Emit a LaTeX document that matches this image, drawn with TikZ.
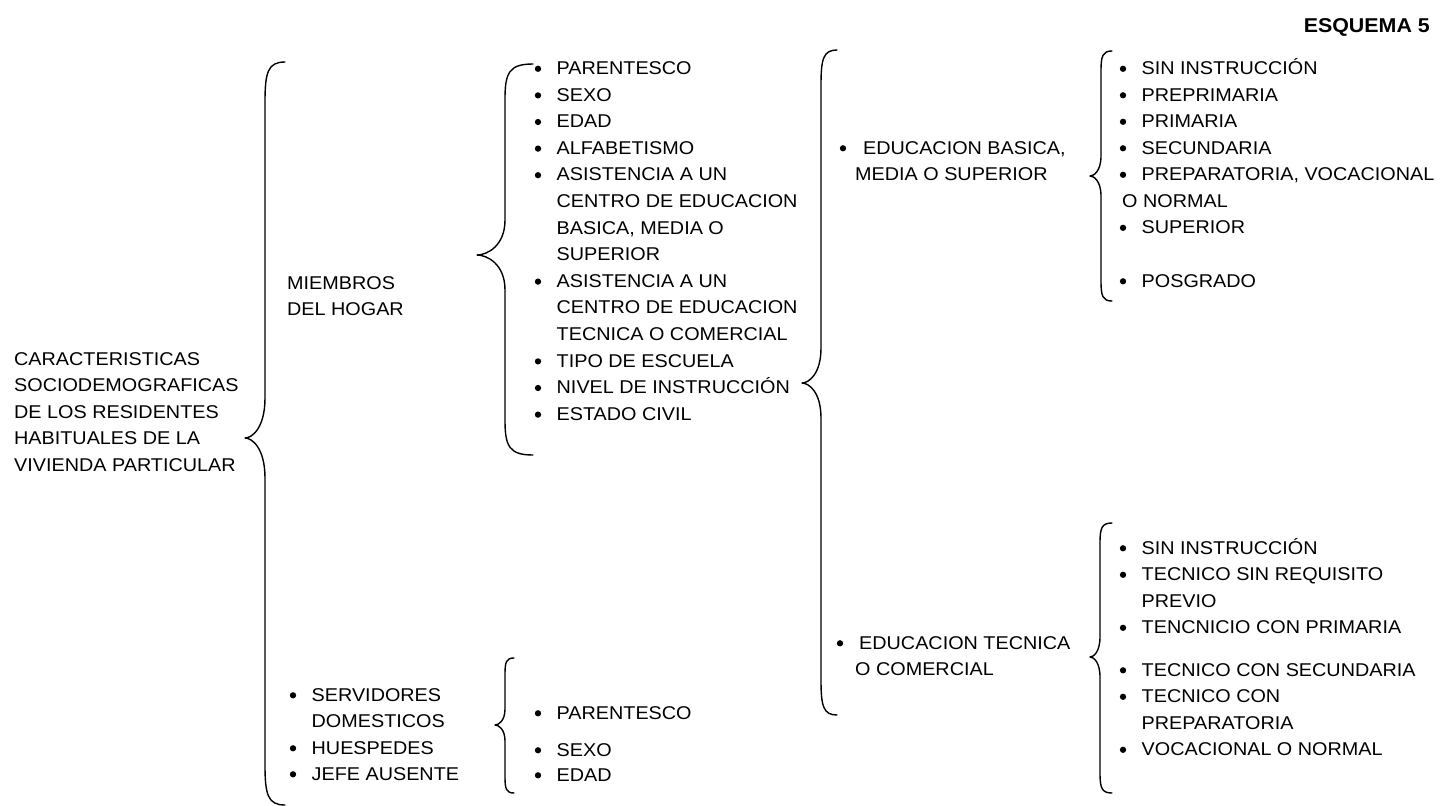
\documentclass[tikz,border=0pt]{standalone}
\usepackage{fontspec}
\setmainfont{Liberation Sans}[FakeStretch=1.07]
\tikzset{
  txt/.style={anchor=base west, inner sep=0pt, font=\fontsize{18.5}{26.5}\selectfont},
  bul/.style={circle, fill=black, inner sep=0pt, minimum size=6.3pt},
  brace/.style={draw=black, line width=1.4pt, line join=round, line cap=round}
}
\newcommand{\bitem}[4]{%
  \node[bul] (#1b) at (#2,{#3-5.7}) {};
  \node[txt] (#1) at ({#2+18.5},#3) {#4};}
\newcommand{\citem}[4]{\node[txt] (#1) at ({#2+18.5},#3) {#4};}
\newcommand{\curlyb}[7]{%
  \draw[brace] (#1,#4) .. controls ({#2+0.15*(#1-#2)},#4) and (#2,{#4+0.25*#7}) .. (#2,{#4+#7})
   -- (#2,{#5-#7}) .. controls (#2,{#5-0.25*#7}) and ({#3+0.35*(#2-#3)},#5) .. (#3,#5)
   .. controls ({#3+0.35*(#2-#3)},#5) and (#2,{#5+0.25*#7}) .. (#2,{#5+#7})
   -- (#2,{#6-#7}) .. controls (#2,{#6-0.25*#7}) and ({#2+0.15*(#1-#2)},#6) .. (#1,#6);}
\begin{document}
\begin{tikzpicture}[x=1pt,y=-1pt]
\useasboundingbox (0,0) rectangle (1444,806);
% title
\node[anchor=base east, inner sep=0pt, font=\fontsize{20}{24}\selectfont\bfseries] (title) at (1430,32) {ESQUEMA 5};
% root
\node[txt] (r1) at (14,365) {CARACTERISTICAS};
\node[txt] (r2) at (14,391.5) {SOCIODEMOGRAFICAS};
\node[txt] (r3) at (14,418) {DE LOS RESIDENTES};
\node[txt] (r4) at (14,444.5) {HABITUALES DE LA};
\node[txt] (r5) at (14,471) {VIVIENDA PARTICULAR};
\curlyb{285}{265}{245}{62}{438}{805}{40}
% level 2
\node[txt] (m1) at (287,289) {MIEMBROS};
\node[txt] (m2) at (287,315.5) {DEL HOGAR};
\bitem{s1}{293}{701}{SERVIDORES}
\citem{s2}{293}{727}{DOMESTICOS}
\bitem{s3}{293}{754}{HUESPEDES}
\bitem{s4}{293}{780}{JEFE AUSENTE}
% brace for miembros
\curlyb{533}{505}{477}{64}{255}{455}{35}
\bitem{a1}{538}{74.5}{PARENTESCO}
\bitem{a2}{538}{101.1}{SEXO}
\bitem{a3}{538}{127.7}{EDAD}
\bitem{a4}{538}{154.3}{ALFABETISMO}
\bitem{a5}{538}{180.9}{ASISTENCIA A UN}
\citem{a6}{538}{207.5}{CENTRO DE EDUCACION}
\citem{a7}{538}{234.1}{BASICA, MEDIA O}
\citem{a8}{538}{260.7}{SUPERIOR}
\bitem{a9}{538}{287.3}{ASISTENCIA A UN}
\citem{a10}{538}{313.9}{CENTRO DE EDUCACION}
\citem{a11}{538}{340.5}{TECNICA O COMERCIAL}
\bitem{a12}{538}{367.1}{TIPO DE ESCUELA}
\bitem{a13}{538}{393.7}{NIVEL DE INSTRUCCIÓN}
\bitem{a14}{538}{420.3}{ESTADO CIVIL}
% brace for servidores
\curlyb{514}{505}{495}{658}{725}{793}{16}
\bitem{b1}{538}{719}{PARENTESCO}
\bitem{b2}{538}{756}{SEXO}
\bitem{b3}{538}{781}{EDAD}
% brace for nivel de instruccion
\curlyb{837}{821}{802}{50}{383}{715}{35}
\node[bul] (e1b) at (843,{154-5.7}) {};
\node[txt] (e1) at (863,154) {EDUCACION BASICA,};
\node[txt] (e2) at (855,180.5) {MEDIA O SUPERIOR};
\node[bul] (t1b) at (840,{649-5.7}) {};
\node[txt] (t1) at (859,649) {EDUCACION TECNICA};
\node[txt] (t2) at (855,675.5) {O COMERCIAL};
% brace top right
\curlyb{1112}{1101}{1090}{51}{176}{301}{20}
\bitem{p1}{1123}{74.5}{SIN INSTRUCCIÓN}
\bitem{p2}{1123}{101}{PREPRIMARIA}
\bitem{p3}{1123}{127.5}{PRIMARIA}
\bitem{p4}{1123}{154}{SECUNDARIA}
\bitem{p5}{1123}{180.5}{PREPARATORIA, VOCACIONAL}
\node[txt] (p6) at (1122,207) {O NORMAL};
\bitem{p7}{1123}{233.5}{SUPERIOR}
\bitem{p8}{1123}{287}{POSGRADO}
% brace bottom right
\curlyb{1112}{1100}{1090}{523}{657}{793}{20}
\bitem{q1}{1123}{554}{SIN INSTRUCCIÓN}
\bitem{q2}{1123}{580.5}{TECNICO SIN REQUISITO}
\citem{q3}{1123}{607}{PREVIO}
\bitem{q4}{1123}{633.5}{TENCNICIO CON PRIMARIA}
\bitem{q5}{1123}{676}{TECNICO CON SECUNDARIA}
\bitem{q6}{1123}{702.5}{TECNICO CON}
\citem{q7}{1123}{729}{PREPARATORIA}
\bitem{q8}{1123}{755.5}{VOCACIONAL O NORMAL}
\end{tikzpicture}
\end{document}
